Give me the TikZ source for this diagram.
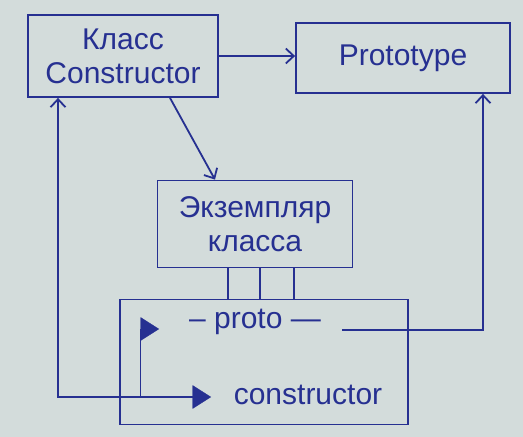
\documentclass[tikz,border=0pt]{standalone}
\usepackage{fontspec}
\setmainfont{Liberation Sans}
\usetikzlibrary{arrows.meta,shapes.geometric}
\definecolor{ink}{RGB}{38,48,145}
\definecolor{paper}{RGB}{211,220,219}

\begin{document}
\begin{tikzpicture}[x=1pt,y=-1pt,
  box/.style={draw=ink,line width=1.8pt,align=center,text=ink,font=\fontsize{30}{34}\selectfont},
  lbl/.style={text=ink,font=\fontsize{30}{34}\selectfont},
  conn/.style={draw=ink,line width=1.8pt},
  tip/.style={-{Straight Barb[length=8pt,width=15pt]}},
  tri/.style={isosceles triangle,isosceles triangle apex angle=65,fill=ink,draw=ink,inner sep=0pt,minimum size=18pt}]
\fill[paper] (0,0) rectangle (523,437);
\useasboundingbox (0,0) rectangle (523,437);
\node[box,minimum width=190,minimum height=82] (cls) at (123,56) {Класс\\Constructor};
\node[box,minimum width=214,minimum height=70] (ptype) at (403,58) {Prototype};
\node[box,minimum width=195,minimum height=87] (inst) at (255,224) {Экземпляр\\класса};
\node[box,minimum width=288,minimum height=125] (obj) at (264,362) {};
\node[tri] (tp) at (147,329) {};
\node[tri] (tc) at (199,397) {};
\node[lbl] (pf) at (255,322) {– proto —};
\node[lbl] (cf) at (308,395) {constructor};
\coordinate (pr) at (483,330);
\coordinate (cl) at (58,397);
\draw[conn,tip] (cls.east) -- (cls.east -| ptype.west);
\draw[conn,tip] ([xshift=47]cls.south) -- ([xshift=-40]inst.north);
\foreach \dx in {-27,5,39}
  \draw[conn] ([xshift=\dx]inst.south) -- ([xshift=\dx]inst.south |- obj.north);
\draw[conn,tip] ([xshift=18]pf.east |- pr) -- (pr) -- (pr |- ptype.south);
\draw[conn] (tp.west) -- (tp.west |- tc) -- (tc.west);
\draw[conn,tip] (tp.west |- tc) -- (cl) -- (cl |- cls.south);
\end{tikzpicture}
\end{document}
